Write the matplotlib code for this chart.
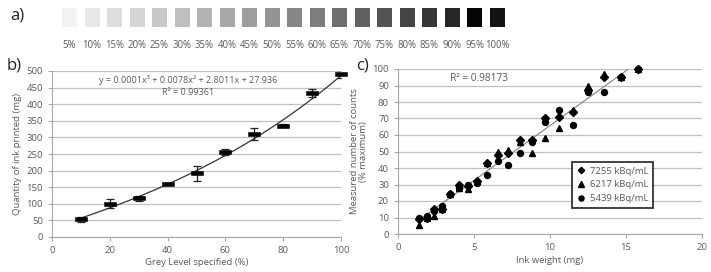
import numpy as np
import matplotlib
matplotlib.use("Agg")
import matplotlib.pyplot as plt
from matplotlib.path import Path

plt.rcParams['font.family'] = ['Open Sans', 'DejaVu Sans']

# ---- data ----
swatch_labels = ["5%", "10%", "15%", "20%", "25%", "30%", "35%", "40%", "45%", "50%",
                 "55%", "60%", "65%", "70%", "75%", "80%", "85%", "90%", "95%", "100%"]
swatch_grey = [0.95, 0.91, 0.87, 0.84, 0.79, 0.75, 0.70, 0.66, 0.62, 0.58,
               0.53, 0.49, 0.43, 0.38, 0.33, 0.27, 0.21, 0.15, 0.02, 0.07]

grey_level = [10, 20, 30, 40, 50, 60, 70, 80, 90, 100]
ink_qty = [53, 100, 116, 160, 192, 256, 310, 335, 435, 490]
ink_err = [8, 14, 9, 3, 22, 8, 18, 5, 12, 12]
poly_coef = [0.0001, 0.0078, 2.8011, 27.936]

ink_weight = [1.4, 1.9, 2.4, 2.9, 3.45, 4.0, 4.6, 5.2, 5.85, 6.55, 7.25, 8.0, 8.8, 9.7,
              10.6, 11.5, 12.5, 13.55, 14.7, 15.8]
counts_7255 = [9, 10, 15, 15, 24, 30, 29, 32, 43, 48, 49, 57, 57, 70, 71, 74, 87, 95, 95, 100]
counts_6217 = [5.5, 10, 11, 15, 24, 28, 27, 32, 43, 50, 51, 56, 49, 58, 64, 75, 90, 97, 95, 100]
counts_5439 = [9.5, 11, 14, 17, 24, 28, 30, 31, 36, 44, 42, 49, 56, 68, 75, 66, 86, 86, 95, 100]
series_labels = ["7255 kBq/mL", "6217 kBq/mL", "5439 kBq/mL"]

W, H = 711, 272
fig = plt.figure(figsize=(W / 100, H / 100), dpi=100)
txt = '#595959'
grid_c = '#c0c0c0'

def ax_px(l, t, r, b):
    return fig.add_axes([l / W, 1 - b / H, (r - l) / W, (b - t) / H])

# ---- panel a ----
axa = ax_px(0, 0, W, 58)
axa.set_xlim(0, W)
axa.set_ylim(58, 0)
axa.axis('off')
x0, pitch, sw, sh = 62, 22.5, 15, 19
for i, (lab, g) in enumerate(zip(swatch_labels, swatch_grey)):
    x = x0 + i * pitch
    axa.add_patch(plt.Rectangle((x, 8), sw, sh, facecolor=(g, g, g), edgecolor='none'))
    axa.text(x + sw / 2, 45, lab, ha='center', va='center', fontsize=6.9, color=txt)
fig.text(10 / W, 1 - 16 / H, "a)", fontsize=12, ha='left', va='center', color='#222222')

# ---- panel b ----
axb = ax_px(52, 71, 341, 237)
dash = Path([(-1, -0.4), (1, -0.4), (1, 0.4), (-1, 0.4), (-1, -0.4)],
            [Path.MOVETO, Path.LINETO, Path.LINETO, Path.LINETO, Path.CLOSEPOLY])
xf = np.linspace(min(grey_level), max(grey_level), 200)
axb.plot(xf, np.polyval(poly_coef, xf), color='#333333', lw=0.9, zorder=3)
axb.errorbar(grey_level, ink_qty, yerr=ink_err, fmt='none', ecolor='#222222',
             elinewidth=0.9, capsize=2.6, capthick=0.9, zorder=4)
axb.plot(grey_level, ink_qty, linestyle='none', marker=dash, markersize=8,
         markeredgewidth=0.4, color='black', zorder=5, clip_on=False)
axb.set_xlim(0, 100)
axb.set_ylim(0, 500)
axb.set_xticks(range(0, 101, 20))
axb.set_yticks(range(0, 501, 50))
axb.yaxis.grid(True, color=grid_c, lw=0.9)
axb.set_axisbelow(True)
for s in ['top', 'right']:
    axb.spines[s].set_visible(False)
for s in ['left', 'bottom']:
    axb.spines[s].set_color('#a6a6a6')
    axb.spines[s].set_linewidth(0.8)
axb.tick_params(colors='#a6a6a6', labelcolor=txt, labelsize=6.8, length=3, width=0.8)
axb.set_xlabel("Grey Level specified (%)", fontsize=6.8, color=txt, labelpad=2)
axb.set_ylabel("Quantity of ink printed (mg)", fontsize=6.8, color=txt, labelpad=3)
axb.text(0.47, 0.945, "y = 0.0001x³ + 0.0078x² + 2.8011x + 27.936", transform=axb.transAxes,
         ha='center', va='center', fontsize=6.5, color=txt)
axb.text(0.47, 0.87, "R² = 0.99361", transform=axb.transAxes,
         ha='center', va='center', fontsize=6.5, color=txt)
fig.text(7 / W, 1 - 66 / H, "b)", fontsize=12, ha='left', va='center', color='#222222')

# ---- panel c ----
axc = ax_px(398, 69, 702, 234)
allx = np.array(ink_weight * 3)
ally = np.array(counts_7255 + counts_6217 + counts_5439)
fit = np.polyfit(allx, ally, 1)
xl = np.linspace(min(ink_weight), max(ink_weight), 50)
axc.plot(xl, np.polyval(fit, xl), color='#808080', lw=0.8, zorder=2)
ms = 4.3
axc.plot(ink_weight, counts_7255, 'D', color='black', markersize=ms - 0.5, label=series_labels[0], zorder=4, clip_on=False)
axc.plot(ink_weight, counts_6217, '^', color='black', markersize=ms, label=series_labels[1], zorder=4, clip_on=False)
axc.plot(ink_weight, counts_5439, 'o', color='black', markersize=ms, label=series_labels[2], zorder=4, clip_on=False)
axc.set_xlim(0, 20)
axc.set_ylim(0, 100)
axc.set_xticks(range(0, 21, 5))
axc.set_yticks(range(0, 101, 10))
axc.yaxis.grid(True, color=grid_c, lw=0.9)
axc.set_axisbelow(True)
for s in ['top', 'right']:
    axc.spines[s].set_visible(False)
for s in ['left', 'bottom']:
    axc.spines[s].set_color('#a6a6a6')
    axc.spines[s].set_linewidth(0.8)
axc.tick_params(colors='#a6a6a6', labelcolor=txt, labelsize=6.8, length=3, width=0.8)
axc.set_xlabel("Ink weight (mg)", fontsize=6.8, color=txt, labelpad=3)
axc.set_ylabel("Measured number of counts\n(% maximum)", fontsize=6.8, color=txt,
               labelpad=3, linespacing=1.1)
axc.text(0.17, 0.94, "R² = 0.98173", transform=axc.transAxes,
         ha='left', va='center', fontsize=7.3, color=txt)
leg = axc.legend(loc='upper left', bbox_to_anchor=((572 - 398) / 304, (234 - 162) / 165),
                 fontsize=6.8, frameon=True, fancybox=False, handlelength=1.0,
                 handletextpad=0.4, borderpad=0.5, labelspacing=0.5, borderaxespad=0,
                 markerscale=0.85)
leg.get_frame().set_edgecolor('black')
leg.get_frame().set_linewidth(1.3)
for t in leg.get_texts():
    t.set_color(txt)
fig.text(356 / W, 1 - 66 / H, "c)", fontsize=12, ha='left', va='center', color='#222222')

fig.savefig("out.png", dpi=100)
